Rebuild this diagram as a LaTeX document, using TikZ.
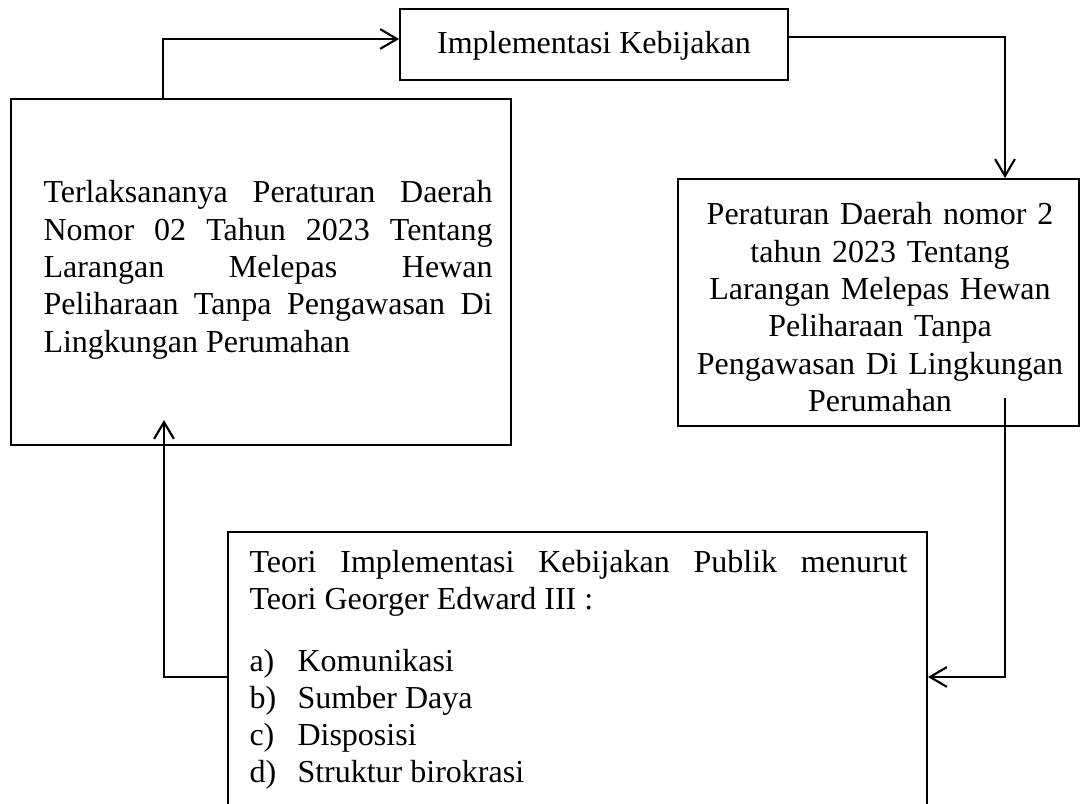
\documentclass[tikz,border=0pt]{standalone}
\usepackage{fontspec}
\setmainfont{Liberation Serif}
\usetikzlibrary{arrows.meta}
\hbadness=10000
\begin{document}
\begin{tikzpicture}[x=0.375pt,y=-0.375pt,
  box/.style={draw,line width=0.7pt,inner sep=0pt,rectangle},
  conn/.style={line width=0.8pt,-{Straight Barb[length=6.3pt,width=7.4pt,line width=0.8pt]}},
  txt/.style={inner sep=0pt,font=\fontsize{12pt}{14pt}\selectfont}]
\useasboundingbox (0,0) rectangle (1080,804);
% boxes
\node[box,minimum width=145.5pt,minimum height=26.625pt] (T) at (594,44.5) {};
\node[box,minimum width=187.5pt,minimum height=129.75pt] (L) at (261,272) {};
\node[box,minimum width=150.375pt,minimum height=92.625pt] (R) at (878.5,302.5) {};
\node[box,minimum width=262.125pt,minimum height=108.75pt] (B) at (577.5,677) {};
% texts
\node[txt,anchor=base] (Ttext) at (594,54) {Implementasi Kebijakan};
\node[txt,anchor=base west,text width=168.375pt,align=justify] (Ltext) at (43,203)
  {Terlaksananya Peraturan Daerah\linebreak Nomor 02 Tahun 2023 Tentang\linebreak Larangan Melepas Hewan\linebreak Peliharaan Tanpa Pengawasan Di\linebreak Lingkungan Perumahan};
\node[txt,anchor=base,text width=142.5pt,align=center] (Rtext) at (880,225)
  {Peraturan Daerah nomor 2\\ tahun 2023 Tentang\\ Larangan Melepas Hewan\\ Peliharaan Tanpa\\ Pengawasan Di Lingkungan\\ Perumahan};
\node[txt,anchor=base west,text width=246.75pt,align=justify,font=\fontsize{12pt}{13.8pt}\selectfont] (Btext) at (249,573)
  {\parskip=0pt Teori Implementasi Kebijakan Publik menurut\linebreak Teori Georger Edward III :\par\vspace{9.45pt}
   \makebox[18pt][l]{a)}Komunikasi\par
   \makebox[18pt][l]{b)}Sumber Daya\par
   \makebox[18pt][l]{c)}Disposisi\par
   \makebox[18pt][l]{d)}Struktur birokrasi};
% connectors
\coordinate (c1) at (163,39);
\coordinate (c2) at (1005,37);
\coordinate (c3) at (1005,398);
\coordinate (c4) at (1005,677);
\coordinate (c5) at (164,420);
\draw[conn] (L.north -| c1) |- (T.west |- c1);
\draw[conn] (T.east |- c2) -| (R.north -| c2);
\draw[conn] (c3) |- (B.east |- c4);
\draw[conn] (B.west |- c4) -| (c5);
\end{tikzpicture}
\end{document}
